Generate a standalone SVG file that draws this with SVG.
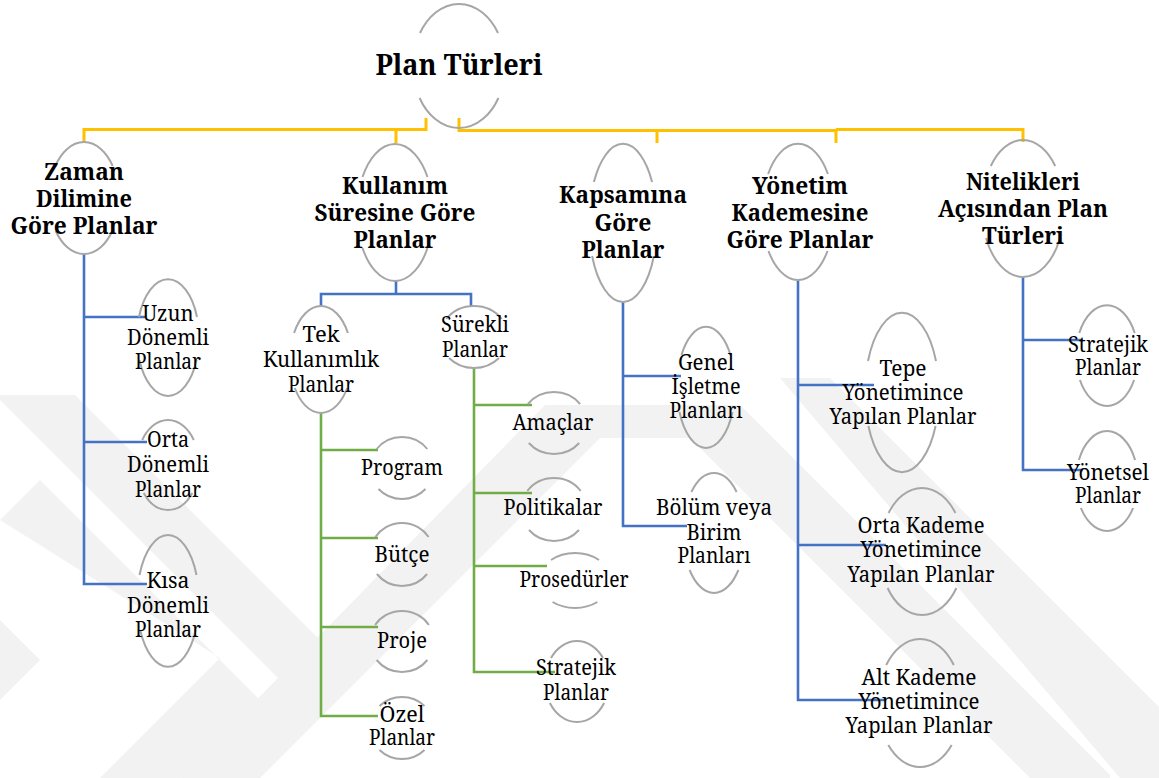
<svg xmlns="http://www.w3.org/2000/svg" width="1159" height="778" viewBox="0 0 1159 778">
  <style>
    .wm { fill: #f2f2f2; }
    .ring { fill: none; stroke: #a6a6a6; stroke-width: 2; }
    .gold { fill: none; stroke: #ffc000; stroke-width: 3; }
    .blue { fill: none; stroke: #4472c4; stroke-width: 2.6; }
    .green { fill: none; stroke: #70ad47; stroke-width: 2.6; }
    .h0 { font-size: 28.5px; font-weight: bold; font-family: "Noto Serif", "DejaVu Serif", serif; }
    .h1 { font-size: 24px; font-weight: bold; font-family: "Noto Serif", "DejaVu Serif", serif; }
    .h2 { font-size: 21px; font-family: "Noto Serif", "DejaVu Serif", serif; }
  </style>

  <rect width="1159" height="778" fill="#ffffff"/>

  <!-- background emblem: faint chevron bands -->
  <g id="emblem">
    <polygon class="wm" points="0,395 75,395 330,650 290,690 0,400"/>
    <polygon class="wm" points="0,520 40,480 260,700 180,778 100,778 220,658"/>
    <polygon class="wm" points="0,700 40,660 0,620"/>
    <polygon class="wm" points="545,405 740,405 1110,775 1110,778 1030,778 690,438 600,438 260,778 180,778"/>
    <polygon class="wm" points="780,378 830,378 1159,707 1159,778 1120,778"/>
  </g>

  <!-- connectors -->
  <g id="connectors">
    <!-- root to first level -->
    <path class="gold" d="M84,143 V129.5 H426 V118"/>
    <path class="gold" d="M396,129.5 V143"/>
    <path class="gold" stroke-width="3.5" d="M459,118 V130.5 H836"/>
    <path class="gold" stroke-width="2.5" d="M836,129.5 H1023 V142"/>
    <path class="gold" stroke-width="2.5" d="M657,130 V143 M836,130 V143"/>
    <!-- time span branch -->
    <path class="blue" d="M84,254 V584 H147 M84,317 H145 M84,442 H147"/>
    <!-- usage duration branch -->
    <path class="blue" stroke-width="4" d="M396,281 V294"/>
    <path class="blue" d="M321,306 V294 H471 V307"/>
    <path class="green" d="M321,413 V716 H378 M321,450 H378 M321,538 H378 M321,627 H378"/>
    <path class="green" d="M474,367 V672 H555 M474,405 H532 M474,493 H532 M474,566 H547"/>
    <!-- scope branch -->
    <path class="blue" d="M623,302 V526 H687 M623,376 H681"/>
    <!-- management level branch -->
    <path class="blue" d="M798,280 V700 H886 M798,385 H874 M798,545 H886"/>
    <!-- qualities branch -->
    <path class="blue" d="M1023,277 V470 H1083 M1023,340 H1083"/>
  </g>

  <g fill="#000" text-anchor="middle">
  <g id="plan-turleri">
    <path class="ring" d="M420,33 A46,62 0 0 1 498,33 M498.4,98 A46,62 0 0 1 419.6,98"/>
    <text class="h0" x="459" y="75" textLength="167" lengthAdjust="spacingAndGlyphs">Plan Türleri</text>
  </g>

  <g id="zaman">
    <path class="ring" d="M55.3,166 A35,56 0 0 1 112.7,166 M112.3,231 A35,56 0 0 1 55.7,231"/>
    <text class="h1" x="84" y="180" textLength="80" lengthAdjust="spacingAndGlyphs">Zaman</text>
    <text class="h1" x="84" y="207" textLength="96" lengthAdjust="spacingAndGlyphs">Dilimine</text>
    <text class="h1" x="84" y="234" textLength="147" lengthAdjust="spacingAndGlyphs">Göre Planlar</text>
  </g>
  <g id="uzun">
    <path class="ring" d="M139,317 A31,58.5 0 0 1 197,317 M196.6,360 A31,58.5 0 0 1 139.4,360"/>
    <text class="h2" x="168" y="321" textLength="51" lengthAdjust="spacingAndGlyphs">Uzun</text>
    <text class="h2" x="168" y="345" textLength="82" lengthAdjust="spacingAndGlyphs">Dönemli</text>
    <text class="h2" x="168" y="369" textLength="66" lengthAdjust="spacingAndGlyphs">Planlar</text>
  </g>
  <g id="orta">
    <path class="ring" d="M142.2,440 A31,45 0 0 1 193.8,440 M192.3,493 A31,45 0 0 1 143.7,493"/>
    <text class="h2" x="168" y="447" textLength="42" lengthAdjust="spacingAndGlyphs">Orta</text>
    <text class="h2" x="168" y="472" textLength="82" lengthAdjust="spacingAndGlyphs">Dönemli</text>
    <text class="h2" x="168" y="497" textLength="66" lengthAdjust="spacingAndGlyphs">Planlar</text>
  </g>
  <g id="kisa">
    <path class="ring" d="M139.5,575 A31,66 0 0 1 196.5,575 M195.8,630 A31,66 0 0 1 140.2,630"/>
    <text class="h2" x="168" y="588" textLength="43" lengthAdjust="spacingAndGlyphs">Kısa</text>
    <text class="h2" x="168" y="613" textLength="82" lengthAdjust="spacingAndGlyphs">Dönemli</text>
    <text class="h2" x="168" y="637" textLength="66" lengthAdjust="spacingAndGlyphs">Planlar</text>
  </g>

  <g id="kullanim">
    <path class="ring" d="M362.5,177 A38,68.5 0 0 1 427.5,177 M427.5,248 A38,68.5 0 0 1 362.5,248"/>
    <text class="h1" x="395" y="194" textLength="106" lengthAdjust="spacingAndGlyphs">Kullanım</text>
    <text class="h1" x="395" y="221" textLength="161" lengthAdjust="spacingAndGlyphs">Süresine Göre</text>
    <text class="h1" x="395" y="248" textLength="83" lengthAdjust="spacingAndGlyphs">Planlar</text>
  </g>
  <g id="tek">
    <path class="ring" d="M294.1,333 A31,53.5 0 0 1 347.9,333 M347.2,388 A31,53.5 0 0 1 294.8,388"/>
    <text class="h2" x="321" y="342" textLength="37" lengthAdjust="spacingAndGlyphs">Tek</text>
    <text class="h2" x="321" y="367" textLength="116" lengthAdjust="spacingAndGlyphs">Kullanımlık</text>
    <text class="h2" x="321" y="392" textLength="66" lengthAdjust="spacingAndGlyphs">Planlar</text>
  </g>
  <g id="surekli">
    <path class="ring" d="M446.3,319 A34,31 0 0 1 501.7,319 M499,358 A34,31 0 0 1 449,358"/>
    <text class="h2" x="475" y="332" textLength="68" lengthAdjust="spacingAndGlyphs">Sürekli</text>
    <text class="h2" x="475" y="357" textLength="66" lengthAdjust="spacingAndGlyphs">Planlar</text>
  </g>
  <g id="program">
    <path class="ring" d="M376.7,449 A32,31 0 0 1 427.3,449 M425.5,489 A32,31 0 0 1 378.5,489"/>
    <text class="h2" x="402" y="475" textLength="82" lengthAdjust="spacingAndGlyphs">Program</text>
  </g>
  <g id="butce">
    <path class="ring" d="M375.4,537 A32,31.5 0 0 1 428.6,537 M427.1,574 A32,31.5 0 0 1 376.9,574"/>
    <text class="h2" x="402" y="562" textLength="55" lengthAdjust="spacingAndGlyphs">Bütçe</text>
  </g>
  <g id="proje">
    <path class="ring" d="M375.1,625 A32,30.5 0 0 1 428.9,625 M427.4,660 A32,30.5 0 0 1 376.6,660"/>
    <text class="h2" x="402" y="648" textLength="50" lengthAdjust="spacingAndGlyphs">Proje</text>
  </g>
  <g id="ozel">
    <path class="ring" d="M379.5,706 A32,31 0 0 1 424.5,706 M424.5,750 A32,31 0 0 1 379.5,750"/>
    <text class="h2" x="402" y="722" textLength="45" lengthAdjust="spacingAndGlyphs">Özel</text>
    <text class="h2" x="402" y="745" textLength="66" lengthAdjust="spacingAndGlyphs">Planlar</text>
  </g>
  <g id="amaclar">
    <path class="ring" d="M527.9,404 A33,31 0 0 1 580.1,404 M579.2,443 A33,31 0 0 1 528.8,443"/>
    <text class="h2" x="553" y="430" textLength="81" lengthAdjust="spacingAndGlyphs">Amaçlar</text>
  </g>
  <g id="politikalar">
    <path class="ring" d="M527.3,491 A33,31.5 0 0 1 580.7,491 M579,530 A33,31.5 0 0 1 529,530"/>
    <text class="h2" x="553" y="515" textLength="99" lengthAdjust="spacingAndGlyphs">Politikalar</text>
  </g>
  <g id="prosedurler">
    <path class="ring" d="M551,560 A36,27.5 0 0 1 599,560 M597.4,602 A36,27.5 0 0 1 552.6,602"/>
    <text class="h2" x="574" y="587" textLength="109" lengthAdjust="spacingAndGlyphs">Prosedürler</text>
  </g>
  <g id="stratejik-surekli">
    <path class="ring" d="M551,658 A32,40.5 0 0 1 603,658 M604.1,703 A32,40.5 0 0 1 549.9,703"/>
    <text class="h2" x="576" y="675" textLength="80" lengthAdjust="spacingAndGlyphs">Stratejik</text>
    <text class="h2" x="576" y="700" textLength="66" lengthAdjust="spacingAndGlyphs">Planlar</text>
  </g>

  <g id="kapsamina">
    <path class="ring" d="M593.9,182 A34,79 0 0 1 652.1,182 M653.9,256 A34,79 0 0 1 592.1,256"/>
    <text class="h1" x="623" y="203" textLength="128" lengthAdjust="spacingAndGlyphs">Kapsamına</text>
    <text class="h1" x="623" y="231" textLength="57" lengthAdjust="spacingAndGlyphs">Göre</text>
    <text class="h1" x="623" y="258" textLength="83" lengthAdjust="spacingAndGlyphs">Planlar</text>
  </g>
  <g id="genel">
    <path class="ring" d="M681.5,355 A29,60.5 0 0 1 730.5,355 M732.5,412 A29,60.5 0 0 1 679.5,412"/>
    <text class="h2" x="706" y="370" textLength="56" lengthAdjust="spacingAndGlyphs">Genel</text>
    <text class="h2" x="706" y="394" textLength="69" lengthAdjust="spacingAndGlyphs">İşletme</text>
    <text class="h2" x="706" y="418" textLength="73" lengthAdjust="spacingAndGlyphs">Planları</text>
  </g>
  <g id="bolum">
    <path class="ring" d="M691.4,492 A31,60 0 0 1 736.6,492 M738.4,570 A31,60 0 0 1 689.6,570"/>
    <text class="h2" x="714" y="515" textLength="116" lengthAdjust="spacingAndGlyphs">Bölüm veya</text>
    <text class="h2" x="714" y="540" textLength="55" lengthAdjust="spacingAndGlyphs">Birim</text>
    <text class="h2" x="714" y="563" textLength="73" lengthAdjust="spacingAndGlyphs">Planları</text>
  </g>

  <g id="yonetim">
    <path class="ring" d="M768.1,174 A36,68 0 0 1 827.9,174 M827.5,251 A36,68 0 0 1 768.5,251"/>
    <text class="h1" x="800" y="194" textLength="96" lengthAdjust="spacingAndGlyphs">Yönetim</text>
    <text class="h1" x="800" y="221" textLength="137" lengthAdjust="spacingAndGlyphs">Kademesine</text>
    <text class="h1" x="800" y="248" textLength="147" lengthAdjust="spacingAndGlyphs">Göre Planlar</text>
  </g>
  <g id="tepe">
    <path class="ring" d="M868,361 A37,79.5 0 0 1 936,361 M935.6,426 A37,79.5 0 0 1 868.4,426"/>
    <text class="h2" x="903" y="376" textLength="47" lengthAdjust="spacingAndGlyphs">Tepe</text>
    <text class="h2" x="903" y="400" textLength="121" lengthAdjust="spacingAndGlyphs">Yönetimince</text>
    <text class="h2" x="903" y="424" textLength="147" lengthAdjust="spacingAndGlyphs">Yapılan Planlar</text>
  </g>
  <g id="orta-kademe">
    <path class="ring" d="M888.6,513 A42,63.5 0 0 1 955.4,513 M956.4,588 A42,63.5 0 0 1 887.6,588"/>
    <text class="h2" x="921" y="533" textLength="127" lengthAdjust="spacingAndGlyphs">Orta Kademe</text>
    <text class="h2" x="921" y="557" textLength="121" lengthAdjust="spacingAndGlyphs">Yönetimince</text>
    <text class="h2" x="921" y="582" textLength="147" lengthAdjust="spacingAndGlyphs">Yapılan Planlar</text>
  </g>
  <g id="alt-kademe">
    <path class="ring" d="M886.2,665 A42,64 0 0 1 953.8,665 M951.7,745 A42,64 0 0 1 888.3,745"/>
    <text class="h2" x="919" y="685" textLength="115" lengthAdjust="spacingAndGlyphs">Alt Kademe</text>
    <text class="h2" x="919" y="709" textLength="121" lengthAdjust="spacingAndGlyphs">Yönetimince</text>
    <text class="h2" x="919" y="733" textLength="147" lengthAdjust="spacingAndGlyphs">Yapılan Planlar</text>
  </g>

  <g id="nitelikleri">
    <path class="ring" d="M990.8,166 A41,68.5 0 0 1 1055.2,166 M1060,238 A41,68.5 0 0 1 986,238"/>
    <text class="h1" x="1023" y="190" textLength="114" lengthAdjust="spacingAndGlyphs">Nitelikleri</text>
    <text class="h1" x="1023" y="217" textLength="170" lengthAdjust="spacingAndGlyphs">Açısından Plan</text>
    <text class="h1" x="1023" y="244" textLength="82" lengthAdjust="spacingAndGlyphs">Türleri</text>
  </g>
  <g id="stratejik">
    <path class="ring" d="M1079.3,333 A31,50.5 0 0 1 1134.7,333 M1134.1,380 A31,50.5 0 0 1 1079.9,380"/>
    <text class="h2" x="1108" y="352" textLength="80" lengthAdjust="spacingAndGlyphs">Stratejik</text>
    <text class="h2" x="1108" y="375" textLength="66" lengthAdjust="spacingAndGlyphs">Planlar</text>
  </g>
  <g id="yonetsel">
    <path class="ring" d="M1078.9,460 A31,50 0 0 1 1135.1,460 M1133.1,508 A31,50 0 0 1 1080.9,508"/>
    <text class="h2" x="1108" y="480" textLength="82" lengthAdjust="spacingAndGlyphs">Yönetsel</text>
    <text class="h2" x="1108" y="503" textLength="66" lengthAdjust="spacingAndGlyphs">Planlar</text>
  </g>
  </g>
</svg>
